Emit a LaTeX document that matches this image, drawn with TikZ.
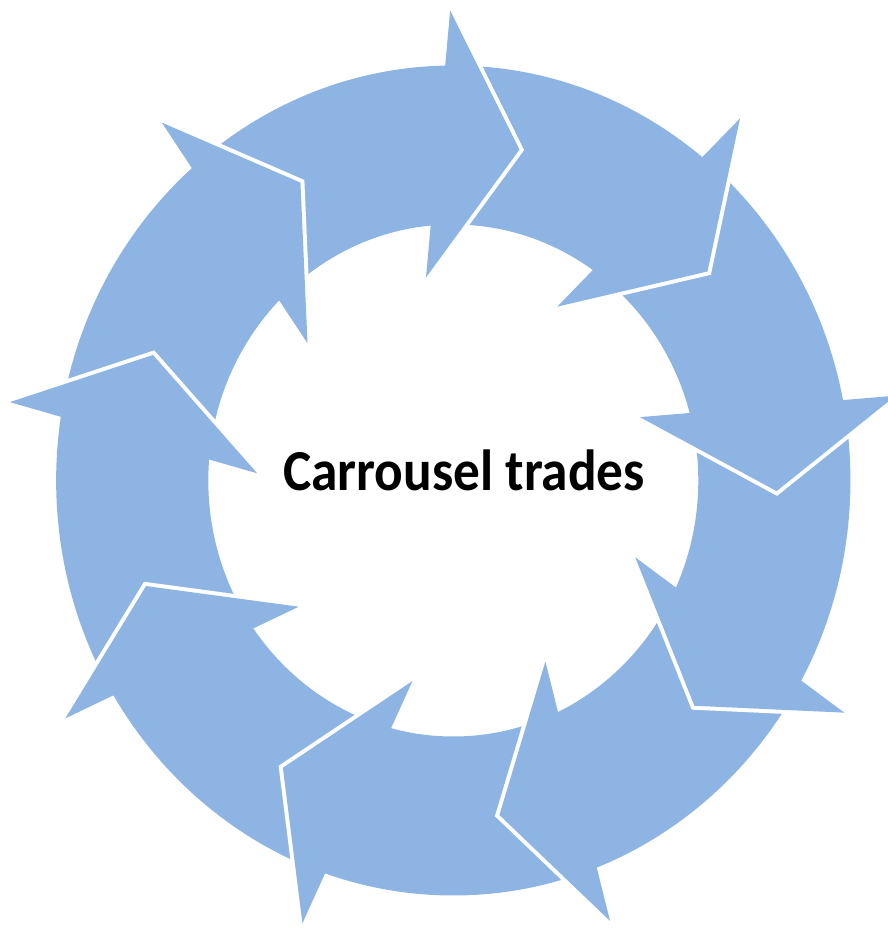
\documentclass[tikz,border=0pt]{standalone}
\usepackage{fontspec}
\setmainfont{Carlito}
\definecolor{ringblue}{RGB}{142,180,227}

\begin{document}
\begin{tikzpicture}[myfillstyle/.style={fill=ringblue}, mygapstyle/.style={draw=white, line width=8, line join=miter}, x=1pt, y=1pt]
  \useasboundingbox (0,0) rectangle (888,930);
  \begin{scope}[shift={(453.3,449.5)}, xscale=0.957]
    \fill[myfillstyle, even odd rule] (0,0) circle (415) (0,0) circle (256);

    \draw[mygapstyle] (90.4:470) -- (78.2:338) -- (98:205);
    \fill[myfillstyle] (90.4:470) -- (78.2:338) -- (98:205) -- cycle;
    \draw[mygapstyle] (50.4:470) -- (38.2:338) -- (58:205);
    \fill[myfillstyle] (50.4:470) -- (38.2:338) -- (58:205) -- cycle;
    \draw[mygapstyle] (10.4:470) -- (-1.8:338) -- (18:205);
    \fill[myfillstyle] (10.4:470) -- (-1.8:338) -- (18:205) -- cycle;
    \draw[mygapstyle] (-29.6:470) -- (-41.8:338) -- (-22:205);
    \fill[myfillstyle] (-29.6:470) -- (-41.8:338) -- (-22:205) -- cycle;
    \draw[mygapstyle] (-69.6:470) -- (-81.8:338) -- (-62:205);
    \fill[myfillstyle] (-69.6:470) -- (-81.8:338) -- (-62:205) -- cycle;
    \draw[mygapstyle] (-109.6:470) -- (-121.8:338) -- (-102:205);
    \fill[myfillstyle] (-109.6:470) -- (-121.8:338) -- (-102:205) -- cycle;
    \draw[mygapstyle] (-149.6:470) -- (-161.8:338) -- (-142:205);
    \fill[myfillstyle] (-149.6:470) -- (-161.8:338) -- (-142:205) -- cycle;
    \draw[mygapstyle] (-189.6:470) -- (-201.8:338) -- (-182:205);
    \fill[myfillstyle] (-189.6:470) -- (-201.8:338) -- (-182:205) -- cycle;
    \draw[mygapstyle] (-229.6:470) -- (-241.8:338) -- (-222:205);
    \fill[myfillstyle] (-229.6:470) -- (-241.8:338) -- (-222:205) -- cycle;
  \end{scope}
  \node[font=\bfseries\fontsize{58}{70}\selectfont, anchor=base, xscale=0.92] (title) at (464,439) {Carrousel trades};
\end{tikzpicture}
\end{document}
